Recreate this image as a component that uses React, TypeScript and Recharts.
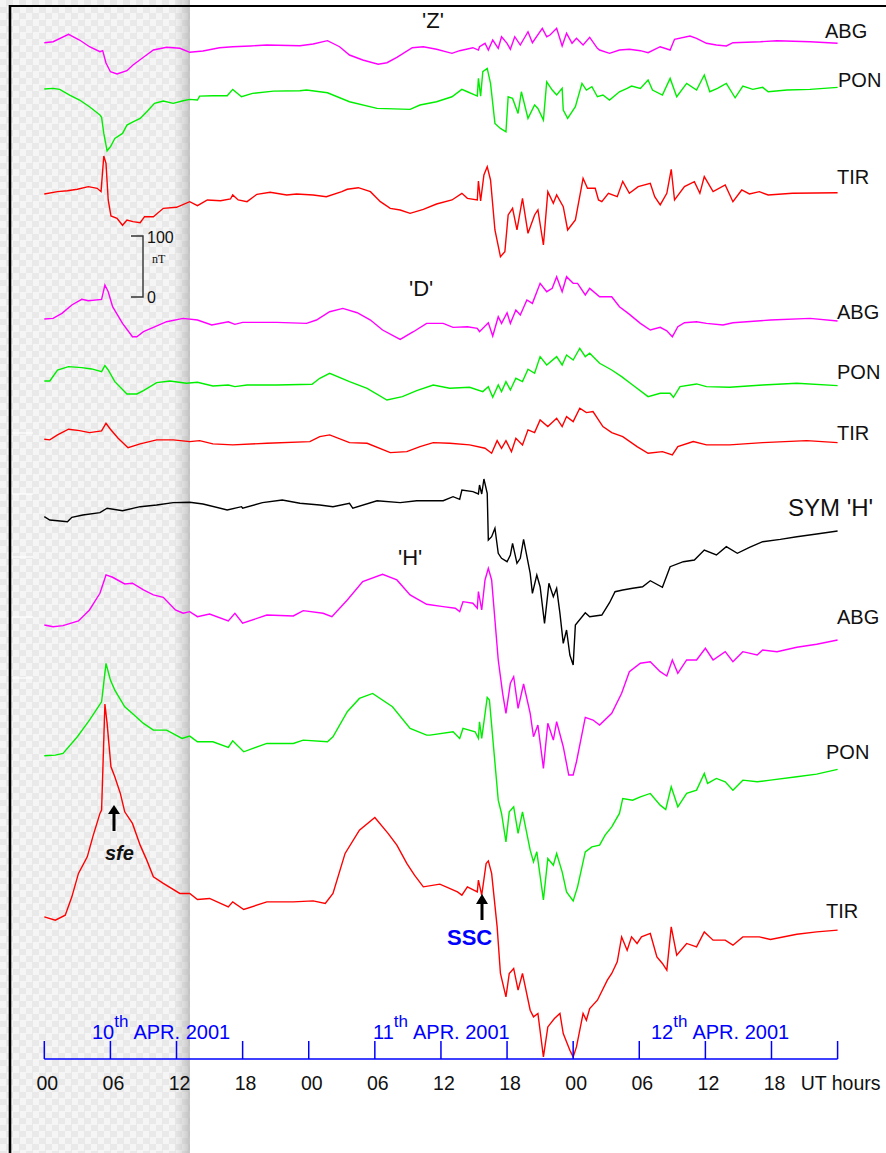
import React from "react";
import { ComposedChart, Line, XAxis, YAxis } from "recharts";

// magnetometer deviations [UT hour from 10 Apr 00h, nT]
const zABG: [number, number][] = [[0,0],[0.8,1.6],[2.2,13.8],[3.2,4.4],[4.1,-6.6],[5.05,-14.8],[5.3,-13.1],[5.6,-33.3],[6,-47.6],[6.6,-51.3],[7.5,-45.9],[8.05,-36.6],[9,-23.9],[9.9,-12],[11.1,-7.5],[12.3,-9.2],[13.2,-15.7],[14.4,-13.6],[15.9,-8.2],[17.1,-6.6],[18.7,-5.4],[20.2,-3.8],[23.2,-4.9],[24.4,-2.1],[25.7,3.3],[26.8,-6.6],[27.7,-20.2],[28.9,-28.4],[30.3,-35.4],[31.1,-32.8],[32,-23.9],[33.4,-8.2],[34.4,-6.6],[35.6,-10.8],[37,-17.4],[37.7,-13.1],[38.9,-8.2],[39.4,-12],[39.5,-6.6],[40,-1],[40.3,-12],[40.7,4.4],[41.2,-9.2],[41.5,9.8],[42,-1],[42.3,-10.8],[42.7,9.8],[43.2,-3.8],[43.9,18],[44.3,0],[45.2,23.6],[45.6,9.8],[45.9,12.6],[46.5,23.6],[47,-5.4],[47.4,15.4],[47.9,-1],[48.3,7.2],[48.9,-3.8],[49.5,8.9],[50.2,-9.2],[50.4,-12],[51.3,-17.4],[52.2,-12],[53.1,-10.8],[54.1,-13.1],[54.8,-16.4],[55.9,-6.6],[56.8,-12],[57.2,5.6],[58.6,11],[59.2,7.2],[60.1,-1],[61,-3.8],[61.9,-5.4],[62.5,0],[65,1.6],[66.5,3.3],[69.5,1.6],[72,-1]];
const zPON: [number, number][] = [[0,0],[0.8,1.1],[1.4,-0.5],[2.3,-9.8],[3.2,-18],[4.1,-29],[5.05,-42.6],[5.2,-46.4],[5.4,-72.7],[5.7,-101.2],[6,-94.6],[6.4,-80.9],[7.1,-72.7],[7.5,-59],[8.05,-53.6],[8.7,-48.1],[9.3,-37.2],[10,-23.5],[10.8,-19.7],[11.7,-23.5],[12.6,-19.2],[13.2,-16.9],[13.9,-18],[14.1,-11.5],[15.3,-11],[16.6,-11],[17.1,-0.5],[17.9,-12.6],[18.9,-7.1],[20.8,-3.3],[23.2,-2.8],[23.8,-1.6],[25.7,-6.1],[27.7,-20.8],[30.2,-31.7],[33.2,-33.3],[34.1,-26.2],[35.6,-20.8],[37,-12.6],[37.9,-0.5],[38.4,-4.4],[39.3,-11.5],[39.4,17.5],[39.6,-11.5],[39.8,28.4],[40.2,33.9],[40.5,9.3],[40.9,-56.3],[41.4,-64.5],[41.9,-70],[42.1,-12.6],[42.5,-15.3],[43,-39.9],[43.3,-4.4],[43.9,-48.1],[44.5,-26.2],[44.8,-31.7],[45.3,-50.8],[45.6,12],[46.1,-1.6],[46.5,-9.8],[47,1.1],[47.1,-34.4],[47.5,-48.1],[48.2,-29],[48.8,9.3],[49.2,-1.6],[49.7,3.8],[50.2,-12.6],[50.7,-9.8],[51.3,-18],[52.2,-4.4],[52.9,1.1],[53.3,4.9],[54.1,1.1],[54.8,14.8],[55.2,-1.6],[56.1,-9.8],[56.8,17.5],[57.4,-12.6],[58.3,9.3],[59.2,-1.6],[59.9,23],[60.4,-4.4],[61.1,1.1],[61.9,9.3],[62.7,-14.3],[63.4,4.9],[64.3,-0.5],[65.2,2.8],[65.7,-4.4],[67.4,-1.6],[69.5,-0.5],[72,2.8]];
const zTIR: [number, number][] = [[0,0],[1.2,3.8],[2.1,5.4],[3,7.7],[4,12],[4.8,9.3],[5.15,3.8],[5.4,62.3],[5.6,50.3],[5.8,-9.8],[6.05,-36.1],[6.6,-39.9],[7.1,-51.3],[7.5,-42.6],[8.05,-45.4],[8.7,-47.1],[9.1,-37.2],[9.9,-37.2],[10.8,-23.5],[12,-21.8],[13.2,-12.6],[13.9,-19.2],[14.8,-9.8],[16,-11],[16.9,-8.2],[17.1,-1.6],[17.6,-9.8],[18.4,-12.6],[19.3,-0.5],[20.5,2.8],[22,-1.6],[22.9,0],[24.4,-1.6],[25.6,-4.4],[27,3.8],[27.5,7.7],[28.5,10.3],[29.6,3.8],[30.5,-12.6],[31.4,-23.5],[32.3,-26.2],[33.2,-31.7],[34.4,-25.2],[35.6,-16.4],[37,-9.8],[37.9,1.1],[38.4,-7.1],[39.3,-9.8],[39.4,21.3],[39.6,-11.5],[39.9,31.2],[40.2,44.8],[40.5,23],[40.9,-59],[41.4,-102.8],[41.8,-94.6],[42.1,-34.4],[42.5,-23.5],[42.9,-59],[43.4,-7.1],[43.9,-64.5],[44.5,-34.4],[44.8,-26.2],[45.3,-83.6],[45.7,3.8],[46.2,-15.3],[46.5,-1.6],[47.1,-20.8],[47.5,-59],[48.2,-42.6],[48.9,25.7],[49.3,9.3],[50,9.3],[50.3,-9.8],[50.6,-12.6],[51.2,1.1],[52,-4.4],[52.5,20.7],[53.1,1.1],[53.9,12],[55,17.5],[55.4,-4.4],[55.9,-18],[56.5,1.1],[56.9,40.5],[57.2,-9.8],[58.1,12],[59,20.2],[59.5,1.1],[59.9,28.4],[60.7,3.8],[61.8,14.8],[62.5,-12.6],[63.3,6.6],[64,0],[64.9,3.8],[65.7,-1.6],[67.9,1.1],[72,2.1]];

const dABG: [number, number][] = [[0,0],[0.8,1.1],[1.6,9.3],[2.5,23],[3.4,32.3],[4,30],[5.2,32.3],[5.5,55.8],[5.8,44.8],[6.2,20.2],[7.1,-7.1],[8,-29],[8.4,-29],[9,-20.8],[9.9,-13.6],[11.1,-4.4],[12.6,1.1],[13.9,-1.6],[15.2,-9.8],[16.7,-4.4],[17.3,-8.7],[18,-5.4],[21.1,-5.4],[23.8,-7.1],[24.7,-1.6],[25.9,12],[27.1,17.5],[28.4,10.3],[29.6,-1.6],[30.7,-18],[32.3,-33.3],[33.5,-20.8],[34.7,-7.1],[36.2,-7.1],[37.1,-13.6],[38.4,-12.6],[39.3,-15.3],[39.5,-20.8],[40.3,-6.1],[40.7,-27.9],[41.2,3.8],[41.5,-7.1],[42,10.3],[42.3,-7.1],[42.8,14.8],[43.2,6.6],[43.8,31.2],[44.3,25.7],[45,58.5],[45.6,44.8],[46.1,50.3],[46.5,69.4],[47,44.8],[47.4,69.4],[48,58.5],[48.4,58.5],[49.1,39.4],[49.5,50.3],[50.4,36.6],[51.5,36.6],[52.2,20.2],[53,9.3],[54.1,-7.1],[55,-18],[55.9,-13.6],[56.5,-19.2],[57,-29],[57.5,-12.6],[58.1,-6.1],[59.2,-4.4],[60.1,-7.1],[61.6,-9.8],[62.5,-6.1],[65.9,-1.6],[69.5,1.1],[72,-3.3]];
const dPON: [number, number][] = [[0,0],[0.5,0],[1.2,18],[2.2,23.5],[3.4,21.8],[4.3,19.7],[5.2,15.3],[5.5,25.1],[5.8,18],[6.4,-1.1],[7.5,-21.3],[8.4,-21.3],[9,-15.9],[10.2,-2.8],[11.4,0],[12.9,-3.8],[13.9,-2.1],[15.3,-8.2],[16.7,-6.6],[17.3,-9.3],[18.4,-6.6],[21.1,-6.6],[24.3,-5.4],[25,4.4],[25.9,12.6],[27.7,-1.1],[29.3,-12],[31.1,-31.2],[32.5,-25.7],[33.8,-15.9],[35.3,-6.6],[36.8,-12],[38.6,-10.3],[39.8,-17.5],[40.3,-9.3],[40.7,-26.7],[41.2,-6.6],[41.5,-17.5],[41.9,-1.1],[42.3,-14.8],[42.8,4.4],[43.4,-1.1],[43.9,19.2],[44.5,12.6],[45,39.9],[45.6,26.2],[46.5,39.9],[47,26.2],[47.4,42.6],[48,34.4],[48.6,53.6],[49.1,39.9],[49.5,45.4],[50.4,29],[51.5,18],[52.4,7.1],[53.4,-6.6],[54.8,-25.7],[55.9,-20.2],[56.8,-20.2],[57.1,-26.7],[57.7,-9.3],[59.2,-4.9],[60.1,-9.3],[62.2,-10.3],[65.2,-6.6],[68.3,-3.8],[72,-7.7]];
const dTIR: [number, number][] = [[0,0],[0.5,-1.1],[1.2,7.1],[2.2,16.4],[3.2,14.1],[4.1,10.8],[5.2,13.6],[5.6,26.2],[6,16.4],[6.7,1.6],[7.6,-13.8],[8.7,-7.7],[10.2,-1.1],[11.7,-1.1],[13.2,-3.9],[14.1,-2.3],[15.3,-7.7],[17.1,-9.3],[20.2,-6.6],[24.1,-3.9],[25,4.3],[25.9,7.1],[27.7,-5.6],[29.3,-6.6],[31.4,-22],[32.9,-20.3],[34.1,-12.1],[35.3,-5.6],[36.8,-6.6],[38.6,-9.3],[40,-14.8],[40.6,-23],[41.1,-2.3],[41.5,-14.8],[41.9,-2.3],[42.4,-20.3],[42.8,1.6],[43.4,-9.3],[43.9,15.3],[44.5,10.8],[45,31.7],[45.7,20.7],[46.5,34.4],[47,20.7],[47.4,37.1],[48,28.9],[48.6,50.8],[49.2,43.6],[49.8,45.3],[50.7,20.7],[51.5,10.8],[52.5,4.3],[53.8,-12.1],[54.8,-23],[56.1,-20.3],[57,-25.7],[57.5,-12.1],[58.9,-3.9],[60.1,-9.3],[62.2,-9.3],[65.2,-5.6],[69.2,-2.3],[72,-5.6]];

const symH: [number, number][] = [[0,0],[0.5,-5.4],[1.2,-6.6],[2.1,-8.2],[2.5,-1],[3.5,2.8],[5.05,6.6],[5.7,13.8],[7.1,9.8],[8.7,16.4],[10.2,19.2],[11.7,23],[13.2,23.6],[14.4,20.8],[16.6,11],[17.9,16.4],[18,13.8],[19.8,23],[21.6,27.4],[23.2,22],[25,19.2],[26.2,16.4],[27.7,22],[28,13.8],[30.2,26.2],[32.3,23],[33.8,26.2],[36.2,26.2],[37.1,32.8],[37.7,28.5],[37.9,43.8],[38.9,41],[39.4,37.2],[39.5,52],[39.7,37.2],[39.9,61.8],[40.2,38.4],[40.3,-38.2],[40.6,-32.8],[40.9,-19],[41.2,-60],[41.5,-68.2],[42,-73.8],[42.3,-62.8],[42.5,-43.6],[42.9,-76.4],[43.2,-68.2],[43.5,-37.1],[44.1,-92.8],[44.3,-125.6],[44.7,-95.6],[45,-114.8],[45.4,-174.8],[45.8,-109.2],[46.2,-131.2],[46.5,-117.4],[46.8,-158.4],[47.1,-207.6],[47.4,-185.8],[47.7,-226.8],[48,-243.2],[48.2,-177.6],[49.1,-157.4],[49.5,-164],[50.6,-161.2],[51.3,-141],[51.8,-123],[52.5,-120.2],[53.4,-117.4],[54.3,-114.8],[55,-105],[56.1,-115.8],[56.8,-82],[58,-73.8],[59,-71],[59.9,-54.6],[61,-62.8],[61.9,-49.2],[62.9,-60],[64,-50.2],[65.2,-41],[66.8,-37.1],[68.3,-32.8],[70.1,-28.4],[72,-23.5]];

const hABG: [number, number][] = [[0,0],[0.8,-2.8],[1.7,-1.1],[3.1,6.6],[4.1,24.6],[5.05,52],[5.6,82],[6.2,78.2],[7.3,67.2],[8,68.4],[9,57.4],[9.9,49.2],[10.8,45.4],[11.9,24.6],[12.6,19.2],[13.2,21.8],[13.9,13.6],[15,18],[16.7,6.6],[17.3,19.2],[18,2.8],[20.2,16.4],[22.6,14.8],[23.5,23.5],[25.3,19.2],[26.1,13.6],[27.5,41],[28.9,71],[30.7,83.1],[32,73.8],[33.2,49.2],[34.7,33.9],[36.2,30],[37.3,27.4],[37.7,21.8],[38,38.2],[38.9,35.6],[39.3,27.4],[39.4,54.6],[39.7,24.6],[40,73.8],[40.3,93],[40.6,73.8],[41.2,-57.4],[41.6,-112],[41.9,-144.8],[42.3,-95.6],[42.6,-84.8],[43,-136.6],[43.5,-96.8],[44.1,-144.8],[44.4,-183.2],[44.8,-164],[45.3,-235],[45.7,-161.2],[46.2,-188.6],[46.5,-158.6],[47.1,-199.6],[47.6,-246],[48,-246],[48.3,-224.2],[49.1,-151.4],[49.8,-155.8],[50.4,-164],[51.5,-144.8],[52.4,-112],[53.1,-76.6],[54.1,-62.8],[55,-60.2],[55.9,-76.6],[56.5,-83.6],[57,-57.4],[57.5,-79.2],[58.3,-57.4],[59.2,-57.4],[60,-38.2],[60.7,-57.4],[61.8,-43.8],[62.5,-60.2],[63.4,-43.8],[64.7,-49.2],[65.2,-41],[66.5,-43.8],[68.3,-36.6],[70.1,-31.7],[72,-24.6]];
const hPON: [number, number][] = [[0,0],[1,1.1],[1.7,3.9],[3,31.2],[4.1,58.5],[5.2,88.6],[5.6,151.5],[6,124.1],[6.4,107.7],[7.3,80.4],[8,69.5],[9,53.1],[9.9,42.1],[11.1,42.1],[12.5,28.5],[13.2,32.3],[13.9,23],[15.3,23],[16.7,13.8],[17.1,24.6],[18.1,6.6],[20.2,20.3],[22.6,20.3],[23.5,25.7],[25.7,23],[26.2,31.2],[27.5,72.2],[28.6,94.1],[29.8,102.3],[31.6,80.4],[33.2,44.9],[34.7,33.9],[35,33.9],[37.1,39.4],[37.7,28.5],[38,44.9],[39.1,39.4],[39.4,28.5],[39.5,55.8],[39.7,28.5],[40.2,95.8],[40.4,91.3],[41.2,-72.7],[41.5,-94.5],[41.9,-141],[42.2,-91.8],[42.6,-83.6],[43,-127.3],[43.4,-91.8],[44.1,-154.7],[44.4,-173.9],[44.7,-157.4],[45.3,-236.2],[45.7,-168.3],[46.2,-179.3],[46.5,-160.1],[47,-190.2],[47.4,-223],[48,-237.8],[48.4,-214.8],[49.1,-157.4],[49.7,-149.2],[50.4,-146.5],[50.9,-130.1],[51.5,-116.4],[52.2,-94.5],[52.5,-69.9],[53.4,-72.7],[54.1,-67.2],[55,-61.7],[55.9,-80.9],[56.4,-87.9],[56.9,-50.8],[57.5,-83.6],[58.3,-61.7],[59.2,-56.3],[59.9,-28.9],[60.2,-45.3],[61,-37.1],[61.8,-42.6],[62.5,-56.3],[63.4,-39.9],[64.7,-42.6],[65.9,-39.9],[68.3,-34.4],[70.1,-30],[72,-22.3]];
const hTIR: [number, number][] = [[0,0],[1,-5.4],[1.9,2.8],[2.5,32.8],[3.1,71.2],[3.9,98.4],[4.4,131.2],[5.05,169.6],[5.2,175],[5.5,348.8],[5.7,317.2],[6.05,246],[6.4,229.6],[6.9,202.4],[7.3,172.2],[8,153.2],[8.7,117.6],[9.3,93],[9.9,65.6],[10.8,54.8],[12.3,38.4],[13.2,38.4],[13.9,28.5],[15,30.2],[16.7,16.4],[17.1,24.6],[18.1,12.1],[20.2,24.6],[22.6,24.6],[24.4,26.2],[25.5,22],[26.2,38.4],[27.3,104],[28.6,142.2],[30,163],[31.2,136.8],[32,117.6],[32.9,87.6],[33.6,68.4],[34.4,49.2],[35.9,53.6],[37.5,41],[37.9,35.6],[38.4,49.2],[39.3,41],[39.4,60.2],[39.7,35.6],[40.1,87.6],[40.3,91.8],[40.6,71.2],[41.1,-16.4],[41.4,-92.8],[41.9,-131.2],[42.2,-92.8],[42.6,-84.6],[43,-120.2],[43.4,-92.8],[44.1,-153],[44.4,-164],[44.8,-158.4],[45.3,-229.6],[45.7,-180.4],[46.3,-166.6],[46.8,-158.4],[47.1,-191.2],[47.7,-218.6],[48,-229.6],[48.3,-213.2],[48.9,-158.4],[49.2,-169.4],[49.5,-150.2],[50.2,-136.6],[51.1,-103.8],[51.5,-92.8],[52,-73.8],[52.4,-32.8],[52.9,-54.6],[53.3,-32.8],[53.8,-43.6],[54.2,-32.8],[55,-27.2],[55.6,-65.6],[56.1,-76.4],[56.5,-87.4],[56.9,-16.4],[57.4,-62.8],[58.3,-43.6],[59.2,-49.2],[59.9,-24.6],[60.7,-38.2],[61.8,-38.2],[62.5,-46.4],[63.4,-32.8],[64.9,-32.8],[65.9,-37.1],[68.3,-28.4],[70.1,-24.6],[72,-21.8]];

const hourTicks = [0, 6, 12, 18, 24, 30, 36, 42, 48, 54, 60, 66, 72];
const hourLabels = ["00", "06", "12", "18", "00", "06", "12", "18", "00", "06", "12", "18", "UT hours"];
const dayNumbers = ["10", "11", "12"];

const MAGENTA = "#ff00ff";
const GREEN = "#00ee00";
const RED = "#ff0000";
const BLUE = "#0000ff";
const FONT = "'Liberation Sans', Arial, sans-serif";

// vertical stacking offsets (nT)
const traces = [
  { name: "zABG", pts: zABG, offset: 1666, color: MAGENTA },
  { name: "zPON", pts: zPON, offset: 1590, color: GREEN },
  { name: "zTIR", pts: zTIR, offset: 1418, color: RED },
  { name: "dABG", pts: dABG, offset: 1213, color: MAGENTA },
  { name: "dPON", pts: dPON, offset: 1111.5, color: GREEN },
  { name: "dTIR", pts: dTIR, offset: 1016, color: RED },
  { name: "symH", pts: symH, offset: 889, color: "#000" },
  { name: "hABG", pts: hABG, offset: 711.5, color: MAGENTA },
  { name: "hPON", pts: hPON, offset: 497, color: GREEN },
  { name: "hTIR", pts: hTIR, offset: 233, color: RED },
];

const HourTick = (props: any) => {
  const { x, y, payload } = props;
  const i = hourTicks.indexOf(payload.value);
  return (
    <g>
      <line x1={x} y1={y - 18} x2={x} y2={y} stroke={BLUE} strokeWidth={1.5} />
      <text x={x + 3} y={y + 31} textAnchor="middle" fontSize={19.5} fill="#111" fontFamily={FONT}>
        {hourLabels[i]}
      </text>
    </g>
  );
};

const stationLabels = [
  { t: "ABG", x: 825, y: 38, s: 20 },
  { t: "PON", x: 838, y: 87, s: 20 },
  { t: "TIR", x: 837, y: 184, s: 20 },
  { t: "ABG", x: 837, y: 319, s: 20 },
  { t: "PON", x: 837, y: 379, s: 20 },
  { t: "TIR", x: 837, y: 440, s: 20 },
  { t: "SYM 'H'", x: 788, y: 516, s: 24 },
  { t: "ABG", x: 837, y: 624, s: 20 },
  { t: "PON", x: 826, y: 759, s: 20 },
  { t: "TIR", x: 826, y: 918, s: 20 },
  { t: "'Z'", x: 422, y: 28, s: 22 },
  { t: "'D'", x: 409, y: 296, s: 22 },
  { t: "'H'", x: 398, y: 565, s: 22 },
];

export default function App() {
  return (
    <div style={{ position: "absolute", left: 0, top: 0, width: 886, height: 1153, background: "#fff", overflow: "hidden" }}>
      <div
        style={{
          position: "absolute",
          left: 0,
          top: 0,
          width: 190,
          height: 1153,
          backgroundColor: "#efefef",
          backgroundImage:
            "linear-gradient(to right, rgba(0,0,0,0) 174px, rgba(170,170,170,0.35) 184px, rgba(160,160,160,0.55) 190px), repeating-conic-gradient(#e9e9e9 0 25%, #f5f5f5 0 50%)",
          backgroundSize: "190px 100%, 13px 13px",
        }}
      />
      <div style={{ position: "absolute", left: 0, top: 0 }}>
        <ComposedChart width={886} height={1153} margin={{ top: 0, right: 48.4, left: 44.3, bottom: 34 }}>
          <XAxis
            dataKey="t"
            type="number"
            domain={[0, 72]}
            ticks={hourTicks}
            height={60}
            tickSize={0}
            tickMargin={0}
            tickLine={false}
            axisLine={{ stroke: BLUE, strokeWidth: 1.5 }}
            tick={<HourTick />}
            interval={0}
          />
          <YAxis type="number" domain={[0, 1736]} hide />
          {traces.map((tr) => (
            <Line
              key={tr.name}
              data={tr.pts.map(([t, v]) => ({ t, v: v + tr.offset }))}
              dataKey="v"
              type="linear"
              stroke={tr.color}
              strokeWidth={1.4}
              dot={false}
              isAnimationActive={false}
            />
          ))}
        </ComposedChart>
      </div>
      <svg width={886} height={1153} style={{ position: "absolute", left: 0, top: 0, pointerEvents: "none" }}>
        <line x1={10} y1={6} x2={886} y2={6} stroke="#000" strokeWidth={2.2} />
        <line x1={10} y1={5} x2={10} y2={1153} stroke="#000" strokeWidth={2.6} />
        {[433, 494, 557, 617, 678].map((y) => (
          <line key={y} x1={12} y1={y} x2={33} y2={y} stroke="#fff" strokeWidth={1.2} />
        ))}
        {/* 100 nT scale bar */}
        <polyline points="131,236 143,236 143,297 131,297" fill="none" stroke="#333" strokeWidth={1.4} />
        <text x={147} y={243} fontSize={16} fontFamily={FONT} fill="#111">100</text>
        <text x={152} y={263} fontSize={12} fontFamily="'Liberation Serif', serif" fill="#111">nT</text>
        <text x={147} y={303} fontSize={16} fontFamily={FONT} fill="#111">0</text>
        {stationLabels.map((l, i) => (
          <text key={i} x={l.x} y={l.y} fontSize={l.s} fontFamily={FONT} fill="#111">{l.t}</text>
        ))}
        {/* day labels */}
        {[92, 373, 651].map((x, i) => (
          <text key={i} x={x} y={1039} fontSize={20} fontFamily={FONT} fill={BLUE}>
            {dayNumbers[i]}
            <tspan dy={-12} fontSize={17}>th</tspan>
            <tspan dy={12} dx={5}>APR. 2001</tspan>
          </text>
        ))}
        {/* sfe arrow */}
        <line x1={114} y1={831} x2={114} y2={812} stroke="#000" strokeWidth={3} />
        <polygon points="108,814 120,814 114,805" fill="#000" />
        <text x={105} y={860} fontSize={20} fontWeight="bold" fontStyle="italic" fontFamily={FONT} fill="#111">sfe</text>
        {/* SSC arrow */}
        <line x1={482} y1={920} x2={482} y2={902} stroke="#000" strokeWidth={3} />
        <polygon points="476,904 488,904 482,894" fill="#000" />
        <text x={447} y={945} fontSize={22} fontWeight="bold" fontFamily={FONT} fill={BLUE}>SSC</text>
      </svg>
    </div>
  );
}
